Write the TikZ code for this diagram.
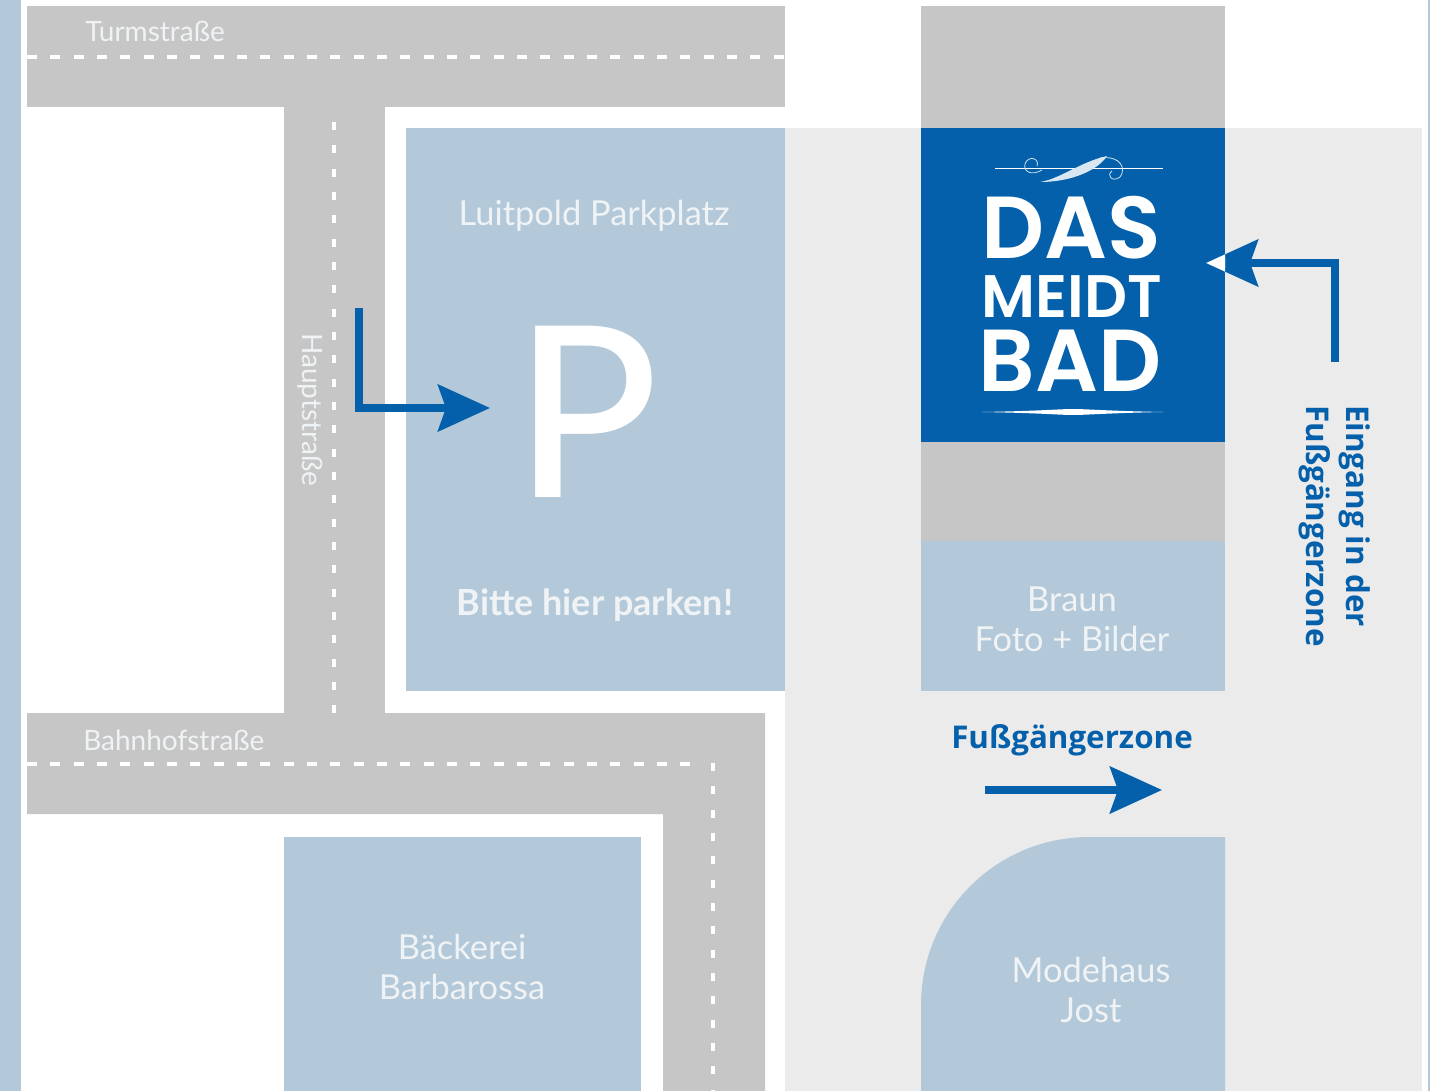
\documentclass[tikz,border=0pt]{standalone}
\usepackage{fontspec}
\usetikzlibrary{arrows.meta}
\setmainfont{Lato}
\newfontfamily\logofont{Poppins SemiBold}
\newfontfamily\parkfont{Lato Medium}
\newfontfamily\cuefont{Open Sans}
\definecolor{lblue}{HTML}{B3C9D9}
\definecolor{road}{HTML}{C6C6C6}
\definecolor{zone}{HTML}{EBEBEB}
\definecolor{dblue}{HTML}{0460AB}
\definecolor{ltext}{HTML}{F0F3F5}
\tikzset{
  x=0.75pt,y=-0.75pt,
  land/.style={fill=lblue,draw=none},
  street/.style={fill=road,draw=none},
  centerline/.style={draw=white,line width=2.6pt,dash pattern=on 7.5pt off 10pt},
  sidedots/.style={draw=white,line width=2.8pt,dash pattern=on 6pt off 11.5pt},
  guide/.style={draw=dblue,line width=5.6pt,-{Stealth[length=39pt,width=35pt,inset=6pt]}},
  maplabel/.style={text=ltext,font=\fontsize{25.8}{30.2}\selectfont,align=center,inner sep=0pt},
  streetlabel/.style={text=ltext,font=\fontsize{21}{24}\selectfont,inner sep=0pt},
  cue/.style={text=dblue,font=\cuefont\fontsize{23.5}{30.7}\bfseries\selectfont,inner sep=0pt},
  logo/.style={text=white,inner sep=0pt},
}
\begin{document}
\begin{tikzpicture}
\useasboundingbox (0,0) rectangle (1430,1091);
\fill[white] (0,0) rectangle (1430,1091);
\fill[land] (0,0) rectangle (21,1091);
\fill[land] (1428,0) rectangle (1430,1091);
% pedestrian zone
\fill[zone] (785,128) rectangle (1422,1091);
% streets
\fill[street] (27,6) rectangle (785,107);
\fill[street] (284,107) rectangle (385,713);
\fill[street] (27,713) -- (765,713) -- (765,1091) -- (663,1091) -- (663,814) -- (27,814) -- cycle;
\fill[street] (921,6) rectangle (1225,128);
\fill[street] (921,442) rectangle (1225,541);
% centre lines
\draw[centerline] (27,57) -- (785,57);
\draw[centerline] (27,764) -- (690,764);
\draw[sidedots] (334,122) -- (334,713);
\draw[sidedots] (713,763) -- (713,1091);
% plots
\fill[land] (406,128) rectangle (785,691);
\fill[land] (921,541) rectangle (1225,691);
\fill[land] (284,837) rectangle (641,1091);
\fill[land] (921,1091) -- (921,1005) arc[start angle=180,end angle=270,radius=168] -- (1225,837) -- (1225,1091) -- cycle;
\fill[dblue] (921,128) rectangle (1225,442);
% labels
\node[streetlabel,anchor=west] (turm) at (85,31) {Turmstraße};
\node[streetlabel,anchor=west] (bahn) at (83,740) {Bahnhofstraße};
\node[streetlabel,rotate=-90] (haupt) at (310,410) {Hauptstraße};
\node[maplabel] (luit) at (594,216) {Luitpold Parkplatz};
\node[text=white,font=\parkfont\fontsize{179}{179}\selectfont,inner sep=0pt] (pp) at (587,412) {P};
\node[maplabel,font=\fontsize{27}{32}\bfseries\selectfont] (bitte) at (595,605) {Bitte hier parken!};
\node[maplabel] (braun) at (1072,619) {Braun\\Foto + Bilder};
\node[maplabel] (baeck) at (462,967) {Bäckerei\\Barbarossa};
\node[maplabel] (mode) at (1091,990) {Modehaus\\Jost};
\node[cue] (fuss) at (1072,740) {Fußgängerzone};
\node[cue,align=left,rotate=-90,anchor=north west] (eing) at (1371,405) {Eingang in der\\Fußgängerzone};
% logo
\node[logo,font=\logofont\fontsize{66}{66}\selectfont] (das) at (1071,228) {DAS};
\node[logo,font=\logofont\fontsize{45}{45}\selectfont] (meidt) at (1072,297) {MEIDT};
\node[logo,font=\logofont\fontsize{66}{66}\selectfont] (bad) at (1070,361) {BAD};
% ornament
\draw[white,line width=0.4pt] (995,168) -- (1163,168);
\draw[white!80!dblue,line width=0.6pt] (1042,170) .. controls (1032,176) and (1023,172) .. (1025,164) .. controls (1028,155) and (1040,158) .. (1037,166);
\draw[white!80!dblue,line width=0.6pt] (1100,158) .. controls (1122,155) and (1126,170) .. (1120,177) .. controls (1112,183) and (1106,175) .. (1112,171);
\fill[white!85!dblue] (1040,182) .. controls (1060,179) and (1080,162) .. (1107,156) .. controls (1098,170) and (1072,182) .. (1040,182) -- cycle;
\fill[white] (982,412) .. controls (1040,411) and (1060,409) .. (1073,409) .. controls (1086,409) and (1110,411) .. (1163,412) .. controls (1110,413) and (1086,415) .. (1073,415) .. controls (1060,415) and (1040,413) .. (982,412) -- cycle;
% arrows
\coordinate (a1) at (359,308);
\coordinate (a2) at (359,408);
\coordinate (a3) at (490,408);
\draw[guide] (a1) -- (a2) -- (a3);
\coordinate (b1) at (1335,362);
\coordinate (b2) at (1335,263);
\coordinate (b3) at (1206,263);
\draw[guide] (b1) -- (b2) -- (b3);
\begin{scope}
\clip (921,128) rectangle (1225,442);
\draw[guide,draw=white,fill=white] (b1) -- (b2) -- (b3);
\end{scope}
\coordinate (c1) at (985,790);
\coordinate (c2) at (1162,790);
\draw[guide] (c1) -- (c2);
\end{tikzpicture}
\end{document}
